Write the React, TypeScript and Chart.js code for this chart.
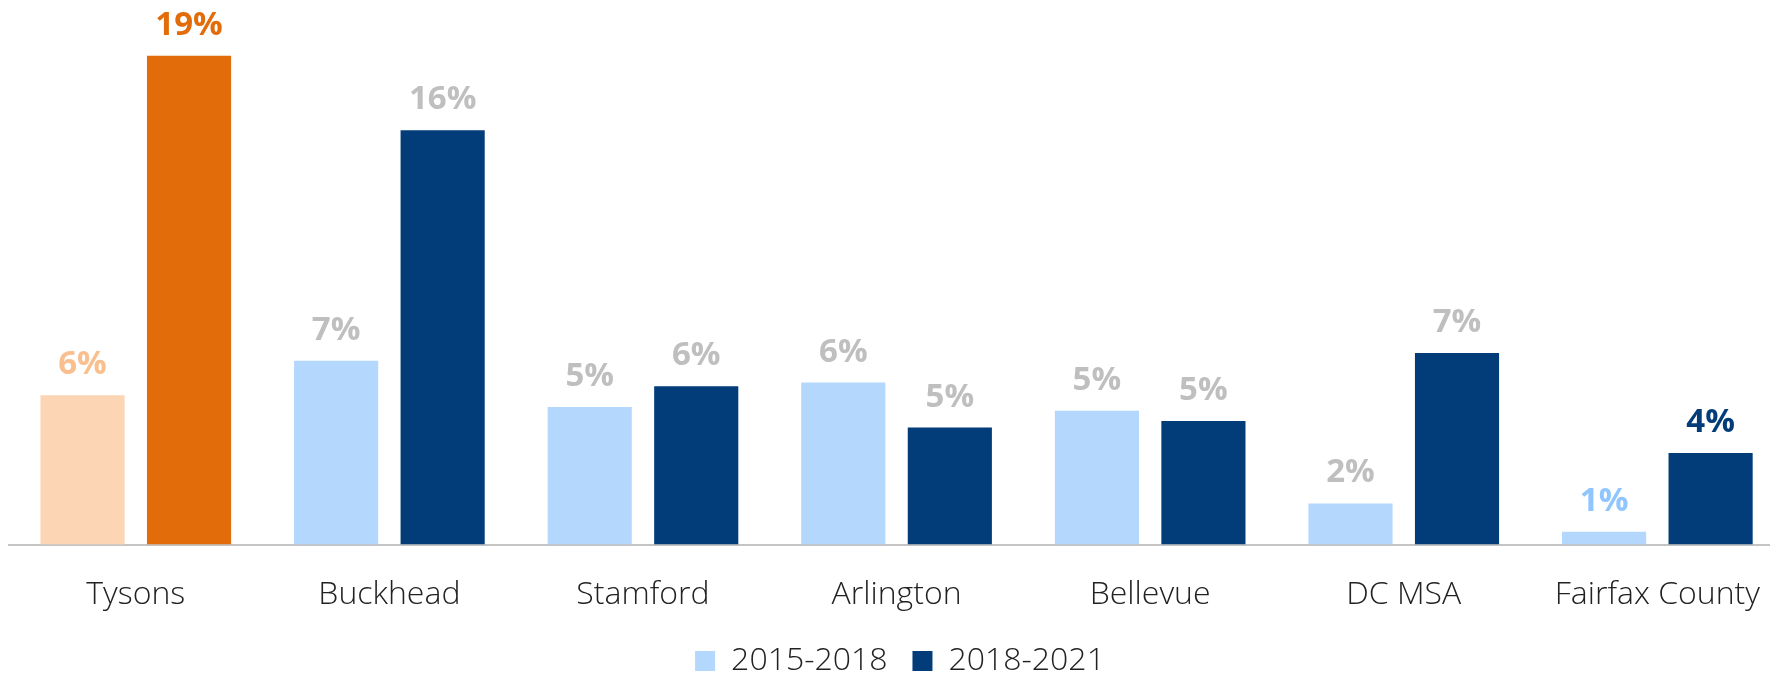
import React, { useEffect, useRef } from "react";
import { Chart, registerables } from "chart.js";

Chart.register(...registerables);

const categories = ["Tysons", "Buckhead", "Stamford", "Arlington", "Bellevue", "DC MSA", "Fairfax County"];
const seriesNames = ["2015-2018", "2018-2021"];
const values2015 = [5.8, 7.15, 5.35, 6.3, 5.2, 1.6, 0.5];
const values2018 = [19.0, 16.1, 6.15, 4.55, 4.8, 7.45, 3.56];

const LIGHT_BLUE = "#b3d7fd";
const NAVY = "#023d7a";
const PEACH = "#fcd5b5";
const ORANGE = "#e36c0a";
const GREY = "#bfbfbf";

const barColors2015 = [PEACH, LIGHT_BLUE, LIGHT_BLUE, LIGHT_BLUE, LIGHT_BLUE, LIGHT_BLUE, LIGHT_BLUE];
const barColors2018 = [ORANGE, NAVY, NAVY, NAVY, NAVY, NAVY, NAVY];
const labelColors2015 = ["#f9bf8e", GREY, GREY, GREY, GREY, GREY, "#8fc6ff"];
const labelColors2018 = [ORANGE, GREY, GREY, GREY, GREY, GREY, NAVY];
const labelColors = [labelColors2015, labelColors2018];

const FONT = "'Open Sans', 'Noto Sans', sans-serif";

const valueLabelPlugin = {
  id: "valueLabels",
  afterDatasetsDraw(chart: any) {
    const ctx = chart.ctx;
    ctx.save();
    ctx.font = `bold 33px ${FONT}`;
    ctx.textAlign = "center";
    ctx.textBaseline = "alphabetic";
    chart.data.datasets.forEach((ds: any, di: number) => {
      const meta = chart.getDatasetMeta(di);
      meta.data.forEach((bar: any, i: number) => {
        const v = ds.data[i];
        ctx.fillStyle = labelColors[di][i];
        ctx.fillText(`${Math.round(v)}%`, bar.x, bar.y - 21);
      });
    });
    ctx.restore();
  },
};

export default function App() {
  const canvasRef = useRef<HTMLCanvasElement | null>(null);

  useEffect(() => {
    if (!canvasRef.current) return;
    const chart = new Chart(canvasRef.current, {
      type: "bar",
      data: {
        labels: categories,
        datasets: [
          {
            label: seriesNames[0],
            data: values2015,
            backgroundColor: barColors2015,
            categoryPercentage: 0.84,
            barPercentage: 0.79,
          },
          {
            label: seriesNames[1],
            data: values2018,
            backgroundColor: barColors2018,
            categoryPercentage: 0.84,
            barPercentage: 0.79,
          },
        ],
      },
      options: {
        responsive: false,
        animation: false,
        layout: { padding: { left: 9, right: 0, top: 30, bottom: 0 } },
        scales: {
          x: {
            grid: { display: false, drawTicks: false },
            border: { display: true, color: "#c4c4c4", width: 2 },
            ticks: {
              color: "#222222",
              padding: 31,
              font: { family: FONT, size: 32, weight: 300 as any },
            },
          },
          y: {
            display: false,
            min: 0,
            max: 20,
          },
        },
        plugins: {
          tooltip: { enabled: false },
          legend: {
            position: "bottom",
            labels: {
              boxWidth: 20,
              boxHeight: 20,
              padding: 0,
              color: "#222222",
              font: { family: FONT, size: 32, weight: 300 as any },
              generateLabels: () => [
                { text: seriesNames[0] + "   ", fillStyle: LIGHT_BLUE, strokeStyle: LIGHT_BLUE, lineWidth: 0, datasetIndex: 0, fontColor: "#222222" },
                { text: seriesNames[1], fillStyle: NAVY, strokeStyle: NAVY, lineWidth: 0, datasetIndex: 1, fontColor: "#222222" },
              ],
            },
          },
        },
      },
      plugins: [valueLabelPlugin],
    });
    return () => chart.destroy();
  }, []);

  return (
    <div style={{ position: "fixed", left: 0, top: 0, width: 1770, height: 673, overflow: "hidden", background: "#ffffff" }}>
      <canvas ref={canvasRef} width={1791} height={687} style={{ width: 1791, height: 687, display: "block" }} />
    </div>
  );
}
